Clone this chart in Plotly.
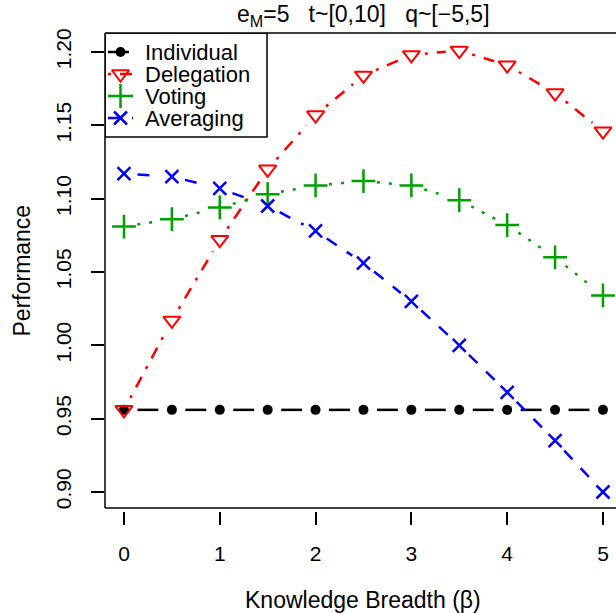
import math
import plotly.graph_objects as go

# ---- data ----
beta = [0, 0.5, 1, 1.5, 2, 2.5, 3, 3.5, 4, 4.5, 5]
individual = [0.956, 0.956, 0.956, 0.956, 0.956, 0.956, 0.956, 0.956, 0.956, 0.956, 0.956]
delegation = [0.956, 1.017, 1.072, 1.120, 1.157, 1.184, 1.198, 1.201, 1.191, 1.172, 1.146]
voting = [1.081, 1.086, 1.094, 1.103, 1.109, 1.112, 1.109, 1.099, 1.082, 1.060, 1.034]
averaging = [1.117, 1.115, 1.107, 1.095, 1.078, 1.056, 1.030, 1.000, 0.968, 0.935, 0.900]

x_ticks = [0, 1, 2, 3, 4, 5]
y_ticks = [0.90, 0.95, 1.00, 1.05, 1.10, 1.15, 1.20]
y_tick_text = ["0.90", "0.95", "1.00", "1.05", "1.10", "1.15", "1.20"]

names = ["Individual", "Delegation", "Voting", "Averaging"]
series = [individual, delegation, voting, averaging]

# ---- layout geometry ----
W, H = 616, 613
M_L, M_R, M_T, M_B = 105, 0, 33, 102
GAP_AXIS = 3  # gap between plot box and x axis ticks
X_RANGE = [-0.198, 5.136]
Y_RANGE = [0.88909, 1.21295]
plot_w = W - M_L - M_R
paper_h = H - M_T - M_B
plot_h = paper_h - GAP_AXIS
sx = plot_w / (X_RANGE[1] - X_RANGE[0])
sy = plot_h / (Y_RANGE[1] - Y_RANGE[0])
PT_GAP = 13.5  # R type="b" gap around points, in px

# legend geometry (px, relative to the top-left corner of the plot box)
LEG_W, LEG_H = 162, 104
LEG_ROW0, LEG_ROW_STEP = 19, 22
LEG_LINE = (3, 28)
LEG_MARK = 15.5
LEG_TEXT = 38

FONT = "Liberation Sans, Arial, sans-serif"
TXT = 23
LEG_TXT = 22
TICK = 21

styles = [
    dict(color="#000000", dash="21px,9px", symbol="circle", size=10, mlw=0),
    dict(color="#FF0000", dash="3px,9px,12px,9px", symbol="triangle-down-open", size=15, mlw=2),
    dict(color="#00A000", dash="3px,9px", symbol="cross-thin-open", size=17, mlw=2.5),
    dict(color="#0000FF", dash="12px,12px", symbol="x-thin-open", size=13, mlw=2.5),
]
LW = 2.5


def b_segments(xs, ys):
    X, Y = [], []
    for i in range(len(xs) - 1):
        x0, y0, x1, y1 = xs[i], ys[i], xs[i + 1], ys[i + 1]
        L = math.hypot((x1 - x0) * sx, (y1 - y0) * sy)
        if L > 2 * PT_GAP:
            f = PT_GAP / L
            X += [x0 + f * (x1 - x0), x1 - f * (x1 - x0), None]
            Y += [y0 + f * (y1 - y0), y1 - f * (y1 - y0), None]
    return X, Y


def marker_of(st):
    mk = dict(symbol=st["symbol"], size=st["size"], color=st["color"])
    if st["mlw"]:
        mk["line"] = dict(color=st["color"], width=st["mlw"])
    return mk


fig = go.Figure()
for name, ys, st in zip(names, series, styles):
    sxs, sys_ = b_segments(beta, ys)
    fig.add_trace(go.Scatter(x=sxs, y=sys_, mode="lines", showlegend=False,
                             line=dict(color=st["color"], width=LW, dash=st["dash"]),
                             hoverinfo="skip", connectgaps=False))
    fig.add_trace(go.Scatter(x=beta, y=ys, mode="markers", showlegend=False,
                             marker=marker_of(st), name=name))

# ---- legend (R style, drawn on a pixel overlay axis) ----
fig.add_trace(go.Scatter(x=[0, LEG_W, LEG_W, 0, 0], y=[0, 0, LEG_H, LEG_H, 0],
                         xaxis="x2", yaxis="y2", mode="lines", fill="toself",
                         fillcolor="white", line=dict(color="black", width=1.5),
                         showlegend=False, hoverinfo="skip"))
for i, (name, st) in enumerate(zip(names, styles)):
    ry = LEG_ROW0 + i * LEG_ROW_STEP
    fig.add_trace(go.Scatter(x=list(LEG_LINE), y=[ry, ry], xaxis="x2", yaxis="y2",
                             mode="lines", line=dict(color=st["color"], width=LW, dash=st["dash"]),
                             showlegend=False, hoverinfo="skip"))
    fig.add_trace(go.Scatter(x=[LEG_MARK], y=[ry], xaxis="x2", yaxis="y2",
                             mode="markers", marker=marker_of(st),
                             showlegend=False, hoverinfo="skip"))
    fig.add_annotation(text=name, xref="x2", yref="y2", x=LEG_TEXT, y=ry,
                       xanchor="left", yanchor="middle", showarrow=False,
                       font=dict(size=LEG_TXT))

# plot box (left, top, bottom)
box = dict(color="black", width=1.5)
fig.add_shape(type="line", xref="x domain", yref="y domain", x0=0, x1=0, y0=0, y1=1, line=box)
fig.add_shape(type="line", xref="x domain", yref="y domain", x0=0, x1=1, y0=1, y1=1, line=box)
fig.add_shape(type="line", xref="x domain", yref="y domain", x0=0, x1=1, y0=0, y1=0, line=box)

fig.update_layout(
    width=W, height=H,
    margin=dict(l=M_L, r=M_R, t=M_T, b=M_B, pad=0),
    paper_bgcolor="white", plot_bgcolor="white",
    font=dict(family=FONT, color="black", size=TXT),
    showlegend=False,
    xaxis=dict(range=X_RANGE, tickvals=x_ticks, ticktext=[str(v) for v in x_ticks],
               showgrid=False, zeroline=False, showline=False,
               ticks="outside", ticklen=13, tickwidth=1.5, tickcolor="black",
               anchor="free", position=0, ticklabelstandoff=11,
               tickfont=dict(size=TICK)),
    yaxis=dict(range=Y_RANGE, domain=[GAP_AXIS / paper_h, 1],
               tickvals=y_ticks, ticktext=y_tick_text,
               showgrid=False, zeroline=False, showline=False,
               ticks="outside", ticklen=13, tickwidth=1.5, tickcolor="black",
               tickangle=-90, ticklabelstandoff=12, tickfont=dict(size=TICK)),
    xaxis2=dict(range=[0, plot_w], domain=[0, 1], overlaying="x", anchor="y2",
                visible=False, fixedrange=True),
    yaxis2=dict(range=[plot_h, 0], domain=[GAP_AXIS / paper_h, 1], overlaying="y",
                anchor="x2", visible=False, fixedrange=True),
)

fig.add_annotation(text="e<sub>M</sub>=5\u00a0\u00a0\u00a0t~[0,10]\u00a0\u00a0\u00a0q~[\u22125,5]",
                   xref="x", yref="paper", x=2.5, y=1, yanchor="middle", yshift=18,
                   showarrow=False, font=dict(size=TXT))
fig.add_annotation(text="Knowledge Breadth (\u03b2)", xref="x", yref="paper", x=2.5, y=0,
                   yanchor="middle", yshift=-89, showarrow=False, font=dict(size=TXT))
fig.add_annotation(text="Performance", xref="paper", yref="y domain", x=0, y=0.5,
                   xanchor="center", xshift=-84, textangle=-90, showarrow=False,
                   font=dict(size=TXT))

fig.write_html("out.html")
